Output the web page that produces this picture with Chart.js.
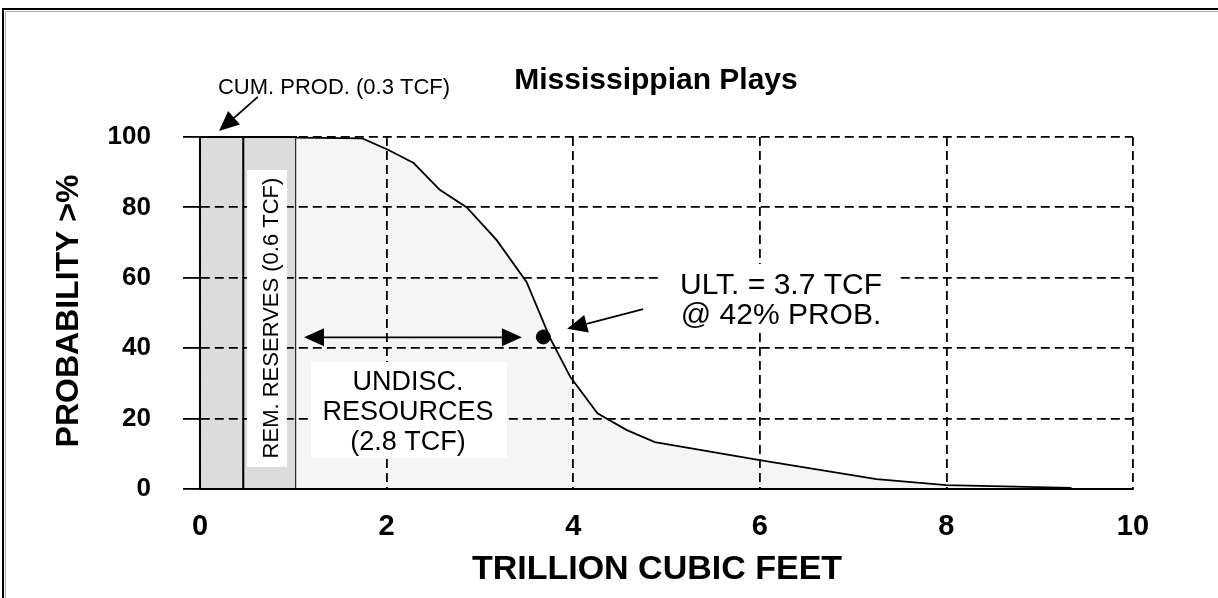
<!DOCTYPE html>
<html><head><meta charset="utf-8">
<script src="https://cdn.jsdelivr.net/npm/chart.js@4.4.0/dist/chart.umd.min.js"></script>
<style>html,body{margin:0;padding:0;background:#fff;} #wrap{position:relative;width:1218px;height:598px;}</style>
</head><body><div id="wrap"><canvas id="c" width="1218" height="598"></canvas></div>
<script>
// ---- data ----
const xTickValues = [0, 2, 4, 6, 8, 10];
const yTickValues = [0, 20, 40, 60, 80, 100];
const cumProdEdges = [0, 0.465];        // cumulative production block (TCF)
const remReservesEdges = [0.465, 1.03]; // remaining reserves block (TCF)
const blockTop = [100, 100];
const curveX = [1.03, 1.74, 2.02, 2.29, 2.57, 2.86, 3.18, 3.5, 3.75, 3.97, 4.26, 4.57, 4.875, 6.0, 7.25, 8.0, 9.34];
const curveY = [99.8, 99.6, 96.3, 92.6, 85.0, 80.0, 70.7, 58.8, 43.0, 31.8, 21.5, 16.8, 13.3, 8.2, 2.8, 1.1, 0.3];
const ultPoint = [3.68, 43.2];
const undiscRange = [1.115, 3.45];
const undiscLevel = 43.1;

const FONT = '"Liberation Sans", Arial, sans-serif';

function block(edges, top) {
  return [{x: edges[0], y: 0}, {x: edges[0], y: top[0]}, {x: edges[1], y: top[1]}, {x: edges[1], y: 0}];
}

const annot = {
  id: 'annot',
  afterDraw(chart) {
    const ctx = chart.ctx;
    const xs = chart.scales.x, ys = chart.scales.y;
    const X = v => xs.getPixelForValue(v), Y = v => ys.getPixelForValue(v);

    function text(str, x, y, font, align, rot) {
      ctx.save();
      ctx.translate(x, y);
      if (rot) ctx.rotate(rot);
      ctx.font = font;
      ctx.fillStyle = '#000';
      ctx.textAlign = align || 'center';
      ctx.textBaseline = 'alphabetic';
      ctx.fillText(str, 0, 0);
      ctx.restore();
    }
    function arrow(x1, y1, x2, y2, headLen, headW) {
      const a = Math.atan2(y2 - y1, x2 - x1);
      const bx = x2 - headLen * Math.cos(a), by = y2 - headLen * Math.sin(a);
      ctx.save();
      ctx.strokeStyle = '#000'; ctx.fillStyle = '#000'; ctx.lineWidth = 1.8;
      ctx.beginPath(); ctx.moveTo(x1, y1); ctx.lineTo(bx, by); ctx.stroke();
      ctx.beginPath();
      ctx.moveTo(x2, y2);
      ctx.lineTo(bx + headW / 2 * Math.sin(a), by - headW / 2 * Math.cos(a));
      ctx.lineTo(bx - headW / 2 * Math.sin(a), by + headW / 2 * Math.cos(a));
      ctx.closePath(); ctx.fill();
      ctx.restore();
    }
    function whiteBox(x0, y0, x1, y1) {
      ctx.save(); ctx.fillStyle = '#fff'; ctx.fillRect(x0, y0, x1 - x0, y1 - y0); ctx.restore();
    }

    // frame
    ctx.save();
    ctx.strokeStyle = '#000'; ctx.lineWidth = 2;
    ctx.beginPath(); ctx.moveTo(3, 598); ctx.lineTo(3, 9); ctx.lineTo(1218, 9); ctx.stroke();
    ctx.strokeStyle = '#aaa'; ctx.lineWidth = 1;
    ctx.beginPath(); ctx.moveTo(5.5, 598); ctx.lineTo(5.5, 11.5); ctx.lineTo(1218, 11.5); ctx.stroke();
    ctx.restore();

    // title and axis titles
    text('Mississippian Plays', 656, 89, 'bold 30px ' + FONT);
    text('TRILLION CUBIC FEET', 657, 579, 'bold 34px ' + FONT);
    text('PROBABILITY >%', 78, 311, 'bold 32px ' + FONT, 'center', -Math.PI / 2);

    // remaining reserves label
    whiteBox(247, 170, 287, 467);
    text('REM. RESERVES (0.6 TCF)', 278, 318, '22px ' + FONT, 'center', -Math.PI / 2);

    // undiscovered resources label
    whiteBox(311, 362, 507, 458);
    text('UNDISC.', 408, 390, '27px ' + FONT);
    text('RESOURCES', 408, 420, '27px ' + FONT);
    text('(2.8 TCF)', 408, 450, '27px ' + FONT);
    arrow((X(undiscRange[0]) + X(undiscRange[1])) / 2, Y(undiscLevel), X(undiscRange[0]), Y(undiscLevel), 20, 18);
    arrow((X(undiscRange[0]) + X(undiscRange[1])) / 2, Y(undiscLevel), X(undiscRange[1]), Y(undiscLevel), 20, 18);

    // ultimate label
    whiteBox(662, 264, 900, 330);
    text('ULT. = 3.7 TCF', 781, 294, '30px ' + FONT);
    text('@ 42% PROB.', 781, 324, '30px ' + FONT);
    arrow(X(4.75), Y(51.1), X(3.935), Y(45.5), 20, 18);

    // cumulative production label
    text('CUM. PROD. (0.3 TCF)', 334, 94, '22px ' + FONT);
    arrow(X(0.62), Y(111.4), X(0.204), Y(101.7), 20, 18);
  }
};

new Chart(document.getElementById('c'), {
  type: 'line',
  data: {
    datasets: [
      { data: [{x: ultPoint[0], y: ultPoint[1]}], showLine: false, pointRadius: 7, pointBackgroundColor: '#000', pointBorderColor: '#000', clip: false },
      { data: curveX.map((x, i) => ({x, y: curveY[i]})), fill: 'origin', backgroundColor: '#f5f5f5', borderColor: '#000', borderWidth: 1.8, pointRadius: 0, tension: 0, clip: false },
      { data: block(remReservesEdges, blockTop), fill: 'origin', backgroundColor: '#dcdcdc', borderColor: '#000', borderWidth: 1.8, pointRadius: 0, tension: 0, clip: false },
      { data: block(cumProdEdges, blockTop), fill: 'origin', backgroundColor: '#dcdcdc', borderColor: '#000', borderWidth: 1.8, pointRadius: 0, tension: 0, clip: false }
    ]
  },
  options: {
    responsive: false,
    animation: false,
    devicePixelRatio: 1,
    layout: { padding: { left: 0, top: 137, right: 85, bottom: 0 } },
    plugins: { legend: { display: false }, tooltip: { enabled: false }, title: { display: false } },
    scales: {
      x: {
        type: 'linear', min: 0, max: 10,
        afterFit: s => { s.height = 109; },
        afterBuildTicks: s => { s.ticks = xTickValues.map(v => ({value: v})); },
        ticks: { color: '#000', font: { family: FONT, size: 29, weight: 'bold' }, padding: 21, maxRotation: 0, autoSkip: false },
        grid: { z: 1, color: '#000', lineWidth: 1.8, drawTicks: false },
        border: { z: 1, display: true, color: '#000', width: 2, dash: [9, 5] }
      },
      y: {
        type: 'linear', min: 0, max: 100,
        afterFit: s => { s.width = 200; },
        afterBuildTicks: s => { s.ticks = yTickValues.map(v => ({value: v})); },
        ticks: { color: '#000', font: { family: FONT, size: 26, weight: 'bold' }, padding: 32 },
        grid: { z: 1, color: '#000', lineWidth: 1.8, drawTicks: true, tickLength: 17, tickColor: '#000', tickWidth: 1.8, tickBorderDash: [] },
        border: { z: 1, display: true, color: '#000', width: 1.8, dash: [9, 5] }
      }
    }
  },
  plugins: [annot]
});
</script>
</body></html>
